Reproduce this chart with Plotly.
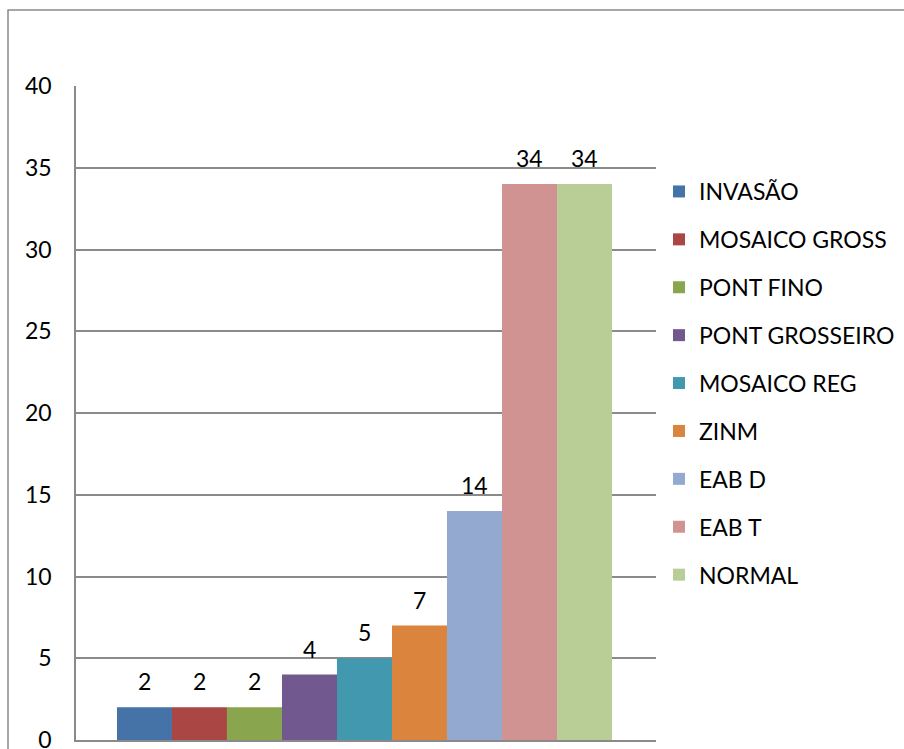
import plotly.graph_objects as go

# Category names and counts
categories = ["INVASÃO", "MOSAICO GROSS", "PONT FINO", "PONT GROSSEIRO",
              "MOSAICO REG", "ZINM", "EAB D", "EAB T", "NORMAL"]
counts = [2, 2, 2, 4, 5, 7, 14, 34, 34]
colors = ["#4572A7", "#AA4643", "#89A54E", "#71588F", "#4198AF",
          "#DB843D", "#93A9CF", "#D19392", "#B9CD96"]
y_ticks = [0, 5, 10, 15, 20, 25, 30, 35, 40]

FONT = "Lato"
FS = 23
GRID = "#8A8A8A"

W, H = 904, 749
L, R, T, B = 76, 656, 86, 740  # plot area in pixels

fig = go.Figure()
for i, (name, val, col) in enumerate(zip(categories, counts, colors)):
    fig.add_trace(go.Bar(
        x=[i], y=[val], name=name, width=1,
        marker=dict(color=col, line=dict(width=0)),
        legendgroup=name,
        hoverinfo="name+y",
    ))
    fig.add_annotation(
        x=i, y=val, xref="x", yref="y", text=str(val),
        showarrow=False, yanchor="middle", yshift=26,
        font=dict(family=FONT, size=FS, color="#000000"),
    )

# outer chart frame
px = lambda v: (v - L) / (R - L)
py = lambda v: (B - v) / (B - T)
fig.add_shape(type="rect", xref="paper", yref="paper",
              x0=px(8), x1=px(940), y0=py(770), y1=py(10),
              line=dict(color=GRID, width=1.5), fillcolor="rgba(0,0,0,0)",
              layer="below")

fig.update_layout(
    width=W, height=H,
    margin=dict(l=L, r=W - R, t=T, b=H - B, pad=0, autoexpand=False),
    paper_bgcolor="white", plot_bgcolor="white",
    barmode="overlay",
    font=dict(family=FONT, size=FS, color="#000000"),
    showlegend=True,
    legend=dict(
        x=px(659), y=py(170), xanchor="left", yanchor="top",
        font=dict(family=FONT, size=FS, color="#000000"),
        tracegroupgap=15, itemclick=False, itemdoubleclick=False,
        bgcolor="rgba(0,0,0,0)", borderwidth=0,
    ),
    xaxis=dict(range=[-1.245, 9.3], showticklabels=False, showgrid=False,
               zeroline=False, showline=True, linecolor=GRID, linewidth=1.5,
               ticks="", automargin=False),
    yaxis=dict(range=[0, 40], tickvals=y_ticks, showgrid=True,
               gridcolor=GRID, gridwidth=1.5, zeroline=False,
               showline=True, linecolor=GRID, linewidth=1.5, ticks="",
               ticklabelstandoff=18, ticklabeloverflow="allow",
               automargin=False,
               tickfont=dict(family=FONT, size=FS, color="#000000")),
)

fig.write_html("out.html")
